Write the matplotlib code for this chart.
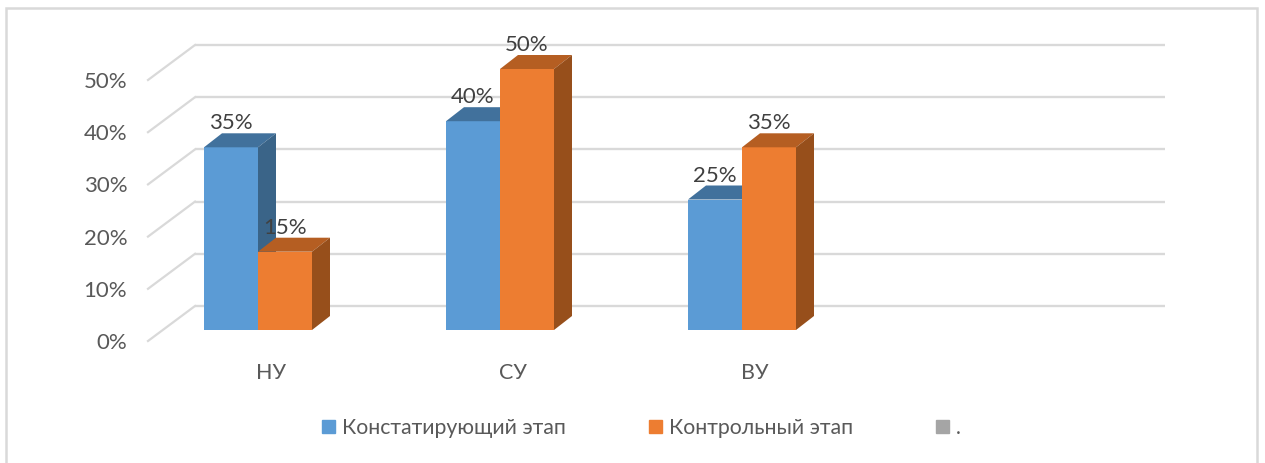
import matplotlib
matplotlib.use("Agg")
import matplotlib.pyplot as plt
from matplotlib.patches import Patch, Rectangle
from matplotlib.transforms import Affine2D

plt.rcParams['font.family'] = ['Lato', 'Open Sans', 'DejaVu Sans']

categories = ["НУ", "СУ", "ВУ", ""]
stage1 = [35, 40, 25]
stage2 = [15, 50, 35]
yticks = [0, 10, 20, 30, 40, 50]
series_names = ["Констатирующий этап", "Контрольный этап", "."]

W, H = 1265, 463
BLUE, BLUE_TOP, BLUE_SIDE = "#5b9bd5", "#41719c", "#3a6488"
ORANGE, ORANGE_TOP, ORANGE_SIDE = "#ed7d31", "#b55e22", "#974f1b"
GRAY = "#a5a5a5"
TEXT = "#404040"
GRID = "#d9d9d9"

fig = plt.figure(figsize=(W / 100, H / 100), dpi=100)

# axes = front edge of the floor, 5.22 px for one percent
x0, x1, y0 = 148, 1165, 341
ppu = 5.22
ax = fig.add_axes([x0 / W, (H - y0) / H, (x1 - x0) / W, 50 * ppu / H])
ax.set_ylim(0, 50)
xl = (-(258 - x0) / 242, (x1 - 258) / 242)
ax.set_xlim(xl)
ax.patch.set_alpha(0)

# outer frame of the chart, runs off the bottom
fig.add_artist(Rectangle((6 / W, -5 / H), 1251 / W, (H - 3) / H, transform=fig.transFigure,
                         fc="white", ec=GRID, lw=1.8, zorder=-5))


def shifted(dx, dy):
    return ax.transData + Affine2D().translate(dx, dy)


# walls of the 3d box
for v in yticks:
    ax.plot([xl[0], xl[1] - 47 / 242], [v, v], color=GRID, lw=1.7,
            transform=shifted(47, 35), clip_on=False, zorder=1, solid_capstyle="butt")
    ax.plot([xl[0], xl[0] + 47 / 242], [v, v + 35 / ppu], color=GRID,
            lw=1.6, clip_on=False, zorder=1)

bw = 54 / 242
base = shifted(0, 11)
depth = shifted(18, 25)
inv = ax.transData.inverted()


def draw_bar(left, val, front, top, side):
    r = left + bw
    ax.bar(left, val, bw, align="edge", color=front, transform=base, clip_on=False, zorder=3)
    (bl, br) = inv.transform(base.transform([(left, val), (r, val)]))
    (fl, fr) = inv.transform(depth.transform([(left, val), (r, val)]))
    ax.fill([bl[0], br[0], fr[0], fl[0]], [bl[1], br[1], fr[1], fl[1]], color=top, lw=0,
            clip_on=False, zorder=3)
    b0 = inv.transform(base.transform((r, 0)))
    d0 = inv.transform(depth.transform((r, 0)))
    ax.fill([b0[0], br[0], fr[0], d0[0]], [b0[1], br[1], fr[1], d0[1]], color=side, lw=0,
            clip_on=False, zorder=3)


for i in range(3):
    draw_bar(i - bw, stage1[i], BLUE, BLUE_TOP, BLUE_SIDE)
    draw_bar(i, stage2[i], ORANGE, ORANGE_TOP, ORANGE_SIDE)
    ax.text(i - bw / 2, stage1[i], f"{stage1[i]}%", transform=shifted(0, 35), ha="center",
            va="center", fontsize=16, color=TEXT, zorder=5)
    ax.text(i + bw / 2, stage2[i], f"{stage2[i]}%", transform=shifted(0, 35), ha="center",
            va="center", fontsize=16, color=TEXT, zorder=5)

ax.set_yticks(yticks)
ax.set_yticklabels([f"{v}%" for v in yticks], fontsize=16, color="#595959")
ax.set_xticks([i + 13 / 242 for i in range(4)])
ax.set_xticklabels(categories, fontsize=15.5, color="#595959")
ax.tick_params(axis="both", length=0)
ax.tick_params(axis="y", pad=15)
ax.tick_params(axis="x", pad=16)
for s in ax.spines.values():
    s.set_visible(False)

handles = [Patch(color=BLUE), Patch(color=ORANGE), Patch(color=GRAY)]
fig.legend(handles, series_names, ncol=3, loc="center", bbox_to_anchor=(641.5 / W, (H - 428) / H),
           frameon=False, fontsize=15.3, labelcolor="#595959", handlelength=0.62, handleheight=0.62,
           handletextpad=0.32, columnspacing=3.9)

fig.savefig("out.png", dpi=100)
